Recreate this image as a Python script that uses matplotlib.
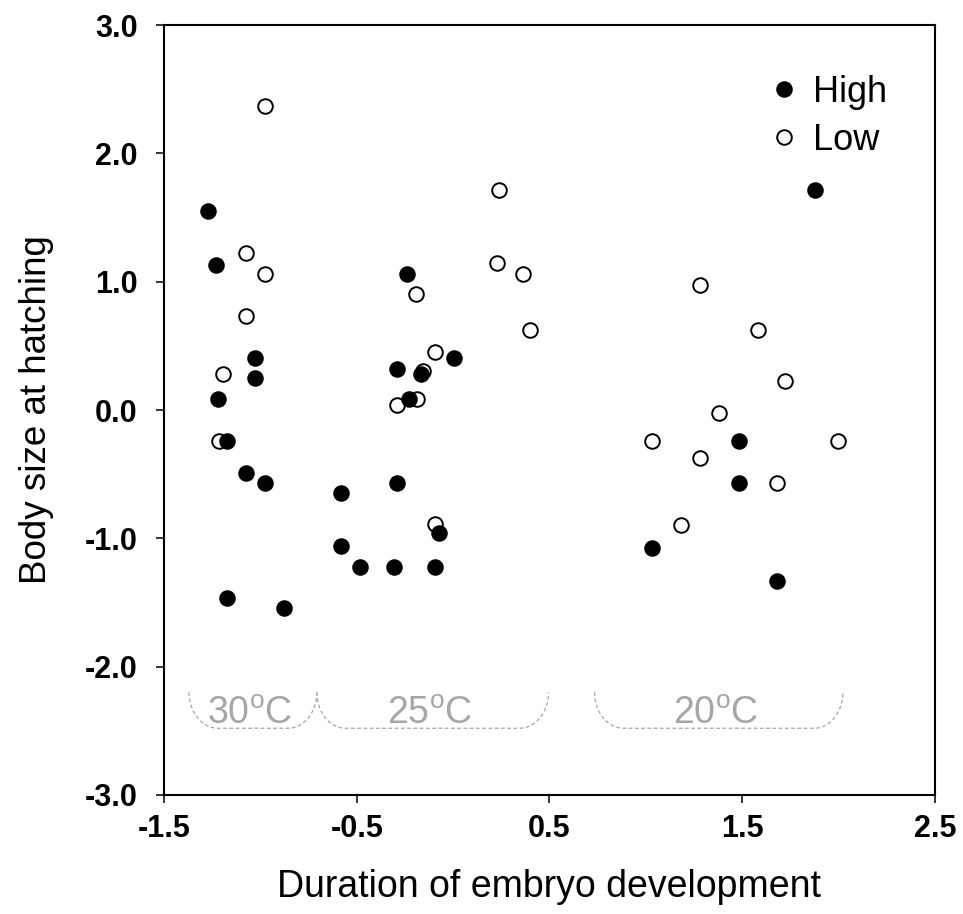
import numpy as np
import matplotlib
matplotlib.use("Agg")
import matplotlib.pyplot as plt

plt.rcParams['font.family'] = ['Liberation Sans', 'DejaVu Sans']
plt.rcParams['mathtext.fontset'] = 'custom'
plt.rcParams['mathtext.rm'] = 'Liberation Sans'

# High group (filled circles)
high_x = [-1.270, -1.230, -1.026, -1.026, -1.219, -1.171, -1.074, -0.977, -1.171, -0.877,
          -0.582, -0.582, -0.485, -0.307, -0.092, -0.071, -0.290, -0.239, -0.290, -0.167,
          -0.229, 0.006, 1.875, 1.482, 1.482, 1.033, 1.679]
high_y = [1.549, 1.127, 0.409, 0.246, 0.085, -0.244, -0.487, -0.567, -1.464, -1.544,
          -0.648, -1.060, -1.220, -1.220, -1.220, -0.961, -0.567, 1.061, 0.316, 0.284,
          0.085, 0.409, 1.712, -0.241, -0.567, -1.075, -1.329]

# Low group (open circles)
low_x = [-0.977, -1.074, -0.977, -1.074, -1.194, -1.213, -0.092, -0.156, -0.187, -0.290,
         -0.092, -0.191, 0.237, 0.228, 0.360, 0.400, 1.283, 1.581, 1.721, 1.381,
         1.032, 1.996, 1.283, 1.679, 1.184]
low_y = [2.372, 1.225, 1.061, 0.735, 0.280, -0.244, 0.451, 0.303, 0.085, 0.039,
         -0.886, 0.901, 1.712, 1.145, 1.061, 0.626, 0.971, 0.626, 0.228, -0.026,
         -0.241, -0.241, -0.373, -0.567, -0.894]

# temperature groups along x
temp_labels = ['30', '25', '20']
temp_spans = [(-1.370, -0.707), (-0.707, 0.495), (0.734, 2.022)]

fig = plt.figure(figsize=(9.63, 9.14), dpi=100)
ax = fig.add_axes([0.1703, 0.1302, 0.8006, 0.8424])

ax.plot(low_x, low_y, 'o', ms=10.5, mfc='white', mec='black', mew=1.4,
        linestyle='none', label='Low', zorder=3)
ax.plot(high_x, high_y, 'o', ms=10.5, mfc='black', mec='black', mew=1.4,
        linestyle='none', label='High', zorder=4)

# dashed brackets under each temperature group
y_top, y_bot = -2.2, -2.48
rx = 0.15
gray = '#a6a6a6'
for lab, (x0, x1) in zip(temp_labels, temp_spans):
    t1 = np.linspace(np.pi, 1.5 * np.pi, 30)
    t2 = np.linspace(1.5 * np.pi, 2 * np.pi, 30)
    bx = np.concatenate([x0 + rx + rx * np.cos(t1), x1 - rx + rx * np.cos(t2)])
    by = np.concatenate([y_top + (y_top - y_bot) * np.sin(t1), y_top + (y_top - y_bot) * np.sin(t2)])
    ax.plot(bx, by, color=gray, lw=0.9, linestyle=(0, (3, 2)), zorder=2)
    ax.text((x0 + x1) / 2 - 0.015, -2.37, lab + r'$^{\mathrm{o}}$C', color=gray,
            fontsize=27, ha='center', va='center')

ax.set_xlim(-1.5, 2.5)
ax.set_ylim(-3.0, 3.0)
ax.set_xticks([-1.5, -0.5, 0.5, 1.5, 2.5])
ax.set_yticks([3.0, 2.0, 1.0, 0.0, -1.0, -2.0, -3.0])
ax.set_xticklabels(['-1.5', '-0.5', '0.5', '1.5', '2.5'])
ax.set_yticklabels(['3.0', '2.0', '1.0', '0.0', '-1.0', '-2.0', '-3.0'])
for lbl in ax.get_xticklabels() + ax.get_yticklabels():
    lbl.set_fontweight('bold')
ax.tick_params(axis='x', direction='out', length=6, width=1.1, labelsize=22, pad=8)
ax.tick_params(axis='y', direction='out', length=6, width=1.1, labelsize=22, pad=13)
for sp in ax.spines.values():
    sp.set_linewidth(1.5)

ax.set_xlabel('Duration of embryo development', fontsize=27, labelpad=18)
ax.set_ylabel('Body size at hatching', fontsize=26.5, labelpad=22)

handles, labels = ax.get_legend_handles_labels()
ax.legend(handles[::-1], labels[::-1], loc='upper left', bbox_to_anchor=(0.79, 0.935),
          frameon=False, fontsize=26, handlelength=0.6, handletextpad=0.5,
          labelspacing=0.35, borderpad=0, borderaxespad=0, markerscale=1.0)

fig.savefig('out.png', dpi=100)
